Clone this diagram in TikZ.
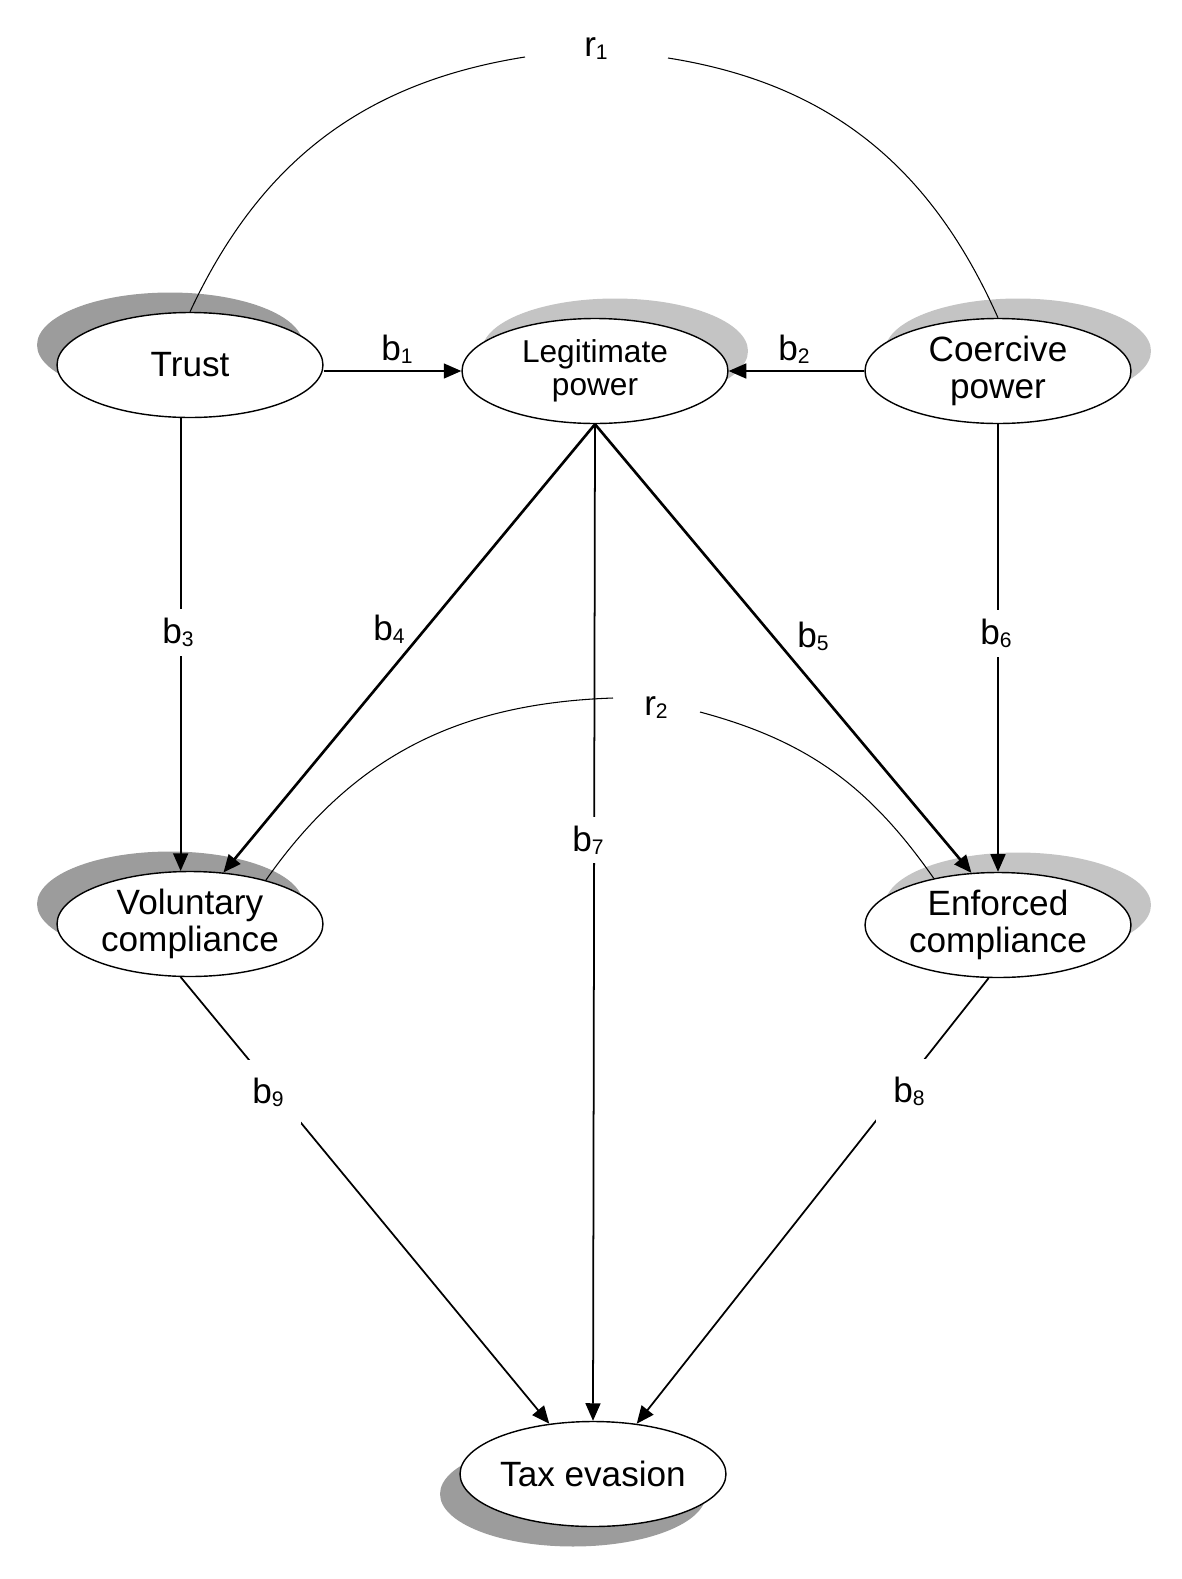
\documentclass[tikz,border=0pt]{standalone}
\usepackage{fontspec}
\setmainfont{Liberation Sans}
\usetikzlibrary{shapes.geometric, arrows.meta, shadows, positioning}
\definecolor{darkshade}{HTML}{9C9C9C}
\definecolor{lightshade}{HTML}{C4C4C4}
\newcommand{\idx}[1]{\raisebox{-2pt}{\fontsize{12}{12}\selectfont #1}}
\tikzset{var/.style={draw=black, line width=0.8pt, fill=white, ellipse, inner sep=0pt, minimum width=5.32cm, minimum height=2.1cm, align=center, font=\fontsize{20}{21}\selectfont}}
\tikzset{darkul/.style={drop shadow={shadow xshift=-0.4cm, shadow yshift=0.4cm, fill=darkshade, opacity=1}}}
\tikzset{darkdl/.style={drop shadow={shadow xshift=-0.4cm, shadow yshift=-0.4cm, fill=darkshade, opacity=1}}}
\tikzset{lightur/.style={drop shadow={shadow xshift=0.4cm, shadow yshift=0.4cm, fill=lightshade, opacity=1}}}
\tikzset{arr/.style={-{Triangle[length=10pt, width=8.5pt]}, line width=1pt}}
\tikzset{bold/.style={line width=1.5pt}}
\tikzset{corr/.style={line width=0.6pt}}
\tikzset{lbl/.style={anchor=base, inner sep=1pt, font=\fontsize{20}{20}\selectfont}}
\tikzset{gap/.style={fill=white, inner xsep=3pt, inner ysep=5pt}}
\tikzset{widegap/.style={inner xsep=10pt, inner ysep=10pt}}

\begin{document}
\begin{tikzpicture}[x=0.02cm, y=-0.02cm]
    \useasboundingbox (0,0) rectangle (1181,1579);

    \node[var, darkul] (trust) at (190,365) {Trust};
    \node[var, lightur, font=\fontsize{18}{19}\selectfont] (legit) at (595,371) {Legitimate\\power};
    \node[var, lightur] (coerc) at (998,371) {Coercive\\power};
    \node[var, darkul] (vol) at (190,924) {Voluntary\\compliance};
    \node[var, lightur] (enf) at (998,925) {Enforced\\compliance};
    \node[var, darkdl] (tax) at (593,1474) {Tax evasion};

    \coordinate (r1a) at (525,57);
    \coordinate (r1b) at (668,58);
    \coordinate (r2a) at (613,698);
    \coordinate (r2b) at (700,712);

    \draw[corr] (trust.north) to[out=65, in=189] (r1a);
    \draw[corr] (r1b) to[out=-9, in=114] (coerc.north);
    \draw[corr] (vol.30) to[out=55, in=182] (r2a);
    \draw[corr] (r2b) to[out=-15, in=125] (enf.144);

    \draw[arr] (trust.east |- legit.west) to (legit.west);
    \draw[arr] (coerc.west) to (legit.east);
    \draw[arr] (trust.-100) to (vol.100);
    \draw[arr, bold] (legit.south) to (vol.57);
    \draw[arr, bold] (legit.south) to (enf.117);
    \draw[arr] (coerc.south) to (enf.north);
    \draw[arr] (legit.south) to (tax.north);
    \draw[arr] (enf.-100) to (tax.49);
    \draw[arr] (vol.-100) to (tax.131);

    \node[lbl] (lb1) at (397,360) {b\idx{1}};
    \node[lbl] (lb2) at (794,360) {b\idx{2}};
    \node[lbl, gap] (lb3) at (178,643) {b\idx{3}};
    \node[lbl] (lb4) at (389,640) {b\idx{4}};
    \node[lbl] (lb5) at (813,647) {b\idx{5}};
    \node[lbl, gap] (lb6) at (996,644) {b\idx{6}};
    \node[lbl, gap] (lb7) at (588,851) {b\idx{7}};
    \node[lbl, gap, widegap] (lb8) at (909,1102) {b\idx{8}};
    \node[lbl, gap, widegap] (lb9) at (268,1103) {b\idx{9}};
    \node[lbl] (lr1) at (596,56) {r\idx{1}};
    \node[lbl] (lr2) at (656,715) {r\idx{2}};
\end{tikzpicture}
\end{document}
